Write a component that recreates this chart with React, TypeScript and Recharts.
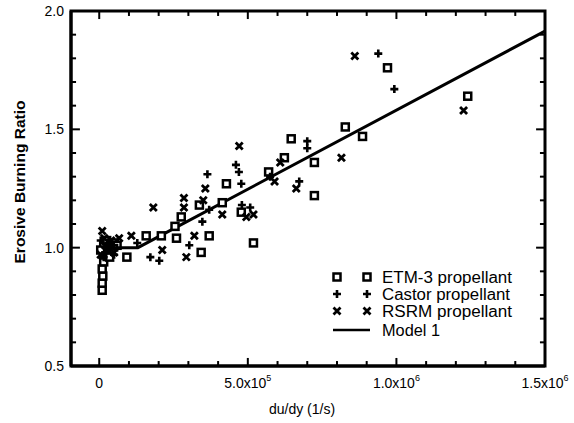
import { ReferenceArea, ReferenceLine, Scatter, ScatterChart, XAxis, YAxis } from 'recharts';

// du/dy (1/s) vs erosive burning ratio
const etm3Points = [
  [10000, 0.82], [10000, 0.85], [12000, 0.88], [10000, 0.91], [15000, 0.94],
  [20000, 0.97], [30000, 1.0], [40000, 0.99], [15000, 1.01], [50000, 1.02],
  [5000, 0.99], [25000, 1.03], [35000, 0.96], [60000, 1.01],
  [93000, 0.96], [158000, 1.05], [209000, 1.05], [255000, 1.09], [260000, 1.04],
  [276000, 1.13], [337000, 1.18], [343000, 0.98], [370000, 1.05], [414000, 1.19],
  [428000, 1.27], [478000, 1.15], [519000, 1.02], [570000, 1.32], [623000, 1.38],
  [646000, 1.46], [724000, 1.36], [724000, 1.22], [828000, 1.51], [886000, 1.47],
  [970000, 1.76], [1240000, 1.64],
];

const castorPoints = [
  [20000, 0.98], [30000, 1.02], [50000, 0.97], [40000, 1.0], [5000, 1.03],
  [15000, 0.96], [45000, 1.01], [60000, 1.0], [128000, 1.02],
  [172000, 0.96], [202000, 0.945], [303000, 1.01], [347000, 1.11], [364000, 1.31],
  [370000, 1.16], [460000, 1.35], [470000, 1.32], [478000, 1.27], [480000, 1.18],
  [508000, 1.17], [575000, 1.3], [673000, 1.28], [700000, 1.45], [700000, 1.42],
  [939000, 1.82], [993000, 1.67],
];

const rsrmPoints = [
  [10000, 1.07], [17000, 1.04], [30000, 0.99], [40000, 1.03], [20000, 1.01],
  [50000, 0.98], [5000, 0.97], [67000, 1.04], [108000, 1.05],
  [182000, 1.17], [212000, 0.99], [285000, 1.21], [285000, 1.17], [293000, 0.96],
  [320000, 1.05], [350000, 1.2], [357000, 1.25], [414000, 1.14], [471000, 1.43],
  [495000, 1.13], [519000, 1.14], [590000, 1.28], [609000, 1.36], [663000, 1.25],
  [815000, 1.38], [860000, 1.81], [1226000, 1.58],
];

const modelPoints = [
  [0, 1.0], [130000, 1.0], [1500000, 1.915],
];

const xMajorTicks = [0, 500000, 1000000, 1500000];
const xMinorTicks = [
  100000, 200000, 300000, 400000, 600000, 700000, 800000, 900000,
  1100000, 1200000, 1300000, 1400000,
];
const xTickLabels: Record<number, [string, string]> = {
  0: ['0', ''],
  500000: ['5.0x10', '5'],
  1000000: ['1.0x10', '6'],
  1500000: ['1.5x10', '6'],
};
const yMajorTicks = [0.5, 1.0, 1.5, 2.0];
const yMinorTicks = [0.6, 0.7, 0.8, 0.9, 1.1, 1.2, 1.3, 1.4, 1.6, 1.7, 1.8, 1.9];

const X_DOMAIN: [number, number] = [-95000, 1500000];
const Y_DOMAIN: [number, number] = [0.5, 2.0];

// inward tick lengths in data units (x: ~3400/px, y: ~0.0042/px)
const X_TICK_LEN = { major: 0.034, minor: 0.021 };
const Y_TICK_LEN = { major: 30000, minor: 17000 };

const toXY = (pts: number[][]) => pts.map(([x, y]) => ({ x, y }));

const FONT = '"Liberation Sans", Arial, sans-serif';

function SquareMark({ cx, cy }: any) {
  return <rect x={cx - 3.5} y={cy - 3.5} width={7} height={7} fill="#fff" stroke="#000" strokeWidth={2.5} />;
}

function PlusMark({ cx, cy }: any) {
  return (
    <path d={`M${cx - 4},${cy}H${cx + 4}M${cx},${cy - 4}V${cy + 4}`} stroke="#000" strokeWidth={2.6} fill="none" />
  );
}

function CrossMark({ cx, cy }: any) {
  return (
    <path
      d={`M${cx - 3.5},${cy - 3.5}L${cx + 3.5},${cy + 3.5}M${cx - 3.5},${cy + 3.5}L${cx + 3.5},${cy - 3.5}`}
      stroke="#000"
      strokeWidth={2.8}
      fill="none"
    />
  );
}

function BottomLabel({ x, y, payload }: any) {
  const lab = xTickLabels[payload.value];
  if (!lab) return <g />;
  return (
    <text x={x} y={y + 22} textAnchor="middle" fontSize={14} fontFamily={FONT} fill="#000">
      {lab[0]}
      {lab[1] && (
        <tspan dy={-7} fontSize={9}>
          {lab[1]}
        </tspan>
      )}
    </text>
  );
}

function LeftLabel({ x, y, payload }: any) {
  return (
    <text x={x - 7} y={y + 5} textAnchor="end" fontSize={14} fontFamily={FONT} fill="#000">
      {payload.value.toFixed(1)}
    </text>
  );
}

const legendRows = [
  { name: 'ETM-3 propellant', Mark: SquareMark, len: 130 },
  { name: 'Castor propellant', Mark: PlusMark, len: 128 },
  { name: 'RSRM propellant', Mark: CrossMark, len: 130 },
];

function LegendBox() {
  return (
    <svg width={190} height={74} style={{ position: 'absolute', left: 328, top: 266, display: 'block' }}>
      {legendRows.map((row, i) => (
        <g key={row.name}>
          <row.Mark cx={9} cy={11 + i * 17} />
          <row.Mark cx={39} cy={11 + i * 17} />
          <text
            x={54}
            y={17 + i * 17}
            fontSize={16}
            fontFamily={FONT}
            fill="#000"
            textLength={row.len}
            lengthAdjust="spacingAndGlyphs"
          >
            {row.name}
          </text>
        </g>
      ))}
      <path d="M5,64H42" stroke="#000" strokeWidth={2.5} />
      <text x={54} y={70} fontSize={16} fontFamily={FONT} fill="#000" textLength={58} lengthAdjust="spacingAndGlyphs">
        Model 1
      </text>
    </svg>
  );
}

type Seg = [{ x: number; y: number }, { x: number; y: number }];

const tickSegments: Seg[] = [
  ...xMajorTicks.flatMap((x): Seg[] => [
    [{ x, y: Y_DOMAIN[0] }, { x, y: Y_DOMAIN[0] + X_TICK_LEN.major }],
    [{ x, y: Y_DOMAIN[1] }, { x, y: Y_DOMAIN[1] - X_TICK_LEN.major }],
  ]),
  ...xMinorTicks.flatMap((x): Seg[] => [
    [{ x, y: Y_DOMAIN[0] }, { x, y: Y_DOMAIN[0] + X_TICK_LEN.minor }],
    [{ x, y: Y_DOMAIN[1] }, { x, y: Y_DOMAIN[1] - X_TICK_LEN.minor }],
  ]),
  ...yMajorTicks.flatMap((y): Seg[] => [
    [{ x: X_DOMAIN[0], y }, { x: X_DOMAIN[0] + Y_TICK_LEN.major, y }],
    [{ x: X_DOMAIN[1], y }, { x: X_DOMAIN[1] - Y_TICK_LEN.major, y }],
  ]),
  ...yMinorTicks.flatMap((y): Seg[] => [
    [{ x: X_DOMAIN[0], y }, { x: X_DOMAIN[0] + Y_TICK_LEN.minor, y }],
    [{ x: X_DOMAIN[1], y }, { x: X_DOMAIN[1] - Y_TICK_LEN.minor, y }],
  ]),
];

export default function App() {
  return (
    <div style={{ position: 'absolute', left: 0, top: 0, width: 574, height: 423, background: '#fff' }}>
      <ScatterChart width={574} height={423} margin={{ top: 11, right: 29, bottom: 17, left: 19 }}>
        <XAxis
          type="number"
          dataKey="x"
          domain={X_DOMAIN}
          ticks={xMajorTicks}
          interval={0}
          height={40}
          tickSize={0}
          tickMargin={0}
          tickLine={false}
          axisLine={{ stroke: '#000', strokeWidth: 3 }}
          tick={BottomLabel}
        />
        <YAxis
          type="number"
          dataKey="y"
          domain={Y_DOMAIN}
          ticks={yMajorTicks}
          interval={0}
          width={52}
          tickSize={0}
          tickMargin={0}
          tickLine={false}
          axisLine={{ stroke: '#000', strokeWidth: 3 }}
          tick={LeftLabel}
        />
        <ReferenceArea
          x1={X_DOMAIN[0]}
          x2={X_DOMAIN[1]}
          y1={Y_DOMAIN[0]}
          y2={Y_DOMAIN[1]}
          fill="none"
          stroke="#000"
          strokeWidth={3}
        />
        {tickSegments.map((seg, i) => (
          <ReferenceLine key={i} segment={seg} stroke="#000" strokeWidth={2} ifOverflow="visible" />
        ))}
        <Scatter
          name="Model 1"
          data={toXY(modelPoints)}
          line={{ stroke: '#000', strokeWidth: 3 }}
          shape={() => <g />}
          isAnimationActive={false}
        />
        <Scatter name="ETM-3 propellant" data={toXY(etm3Points)} shape={SquareMark} isAnimationActive={false} />
        <Scatter name="Castor propellant" data={toXY(castorPoints)} shape={PlusMark} isAnimationActive={false} />
        <Scatter name="RSRM propellant" data={toXY(rsrmPoints)} shape={CrossMark} isAnimationActive={false} />
      </ScatterChart>
      <svg width={574} height={423} style={{ position: 'absolute', left: 0, top: 0, pointerEvents: 'none' }}>
        <text x={302} y={414} textAnchor="middle" fontSize={14} fontFamily={FONT} fill="#000">
          du/dy (1/s)
        </text>
        <text
          x={25}
          y={182}
          transform="rotate(-90 25 182)"
          textAnchor="middle"
          fontSize={15}
          fontWeight="bold"
          fontFamily={FONT}
          fill="#000"
          textLength={163}
          lengthAdjust="spacingAndGlyphs"
        >
          Erosive Burning Ratio
        </text>
      </svg>
      <LegendBox />
    </div>
  );
}
